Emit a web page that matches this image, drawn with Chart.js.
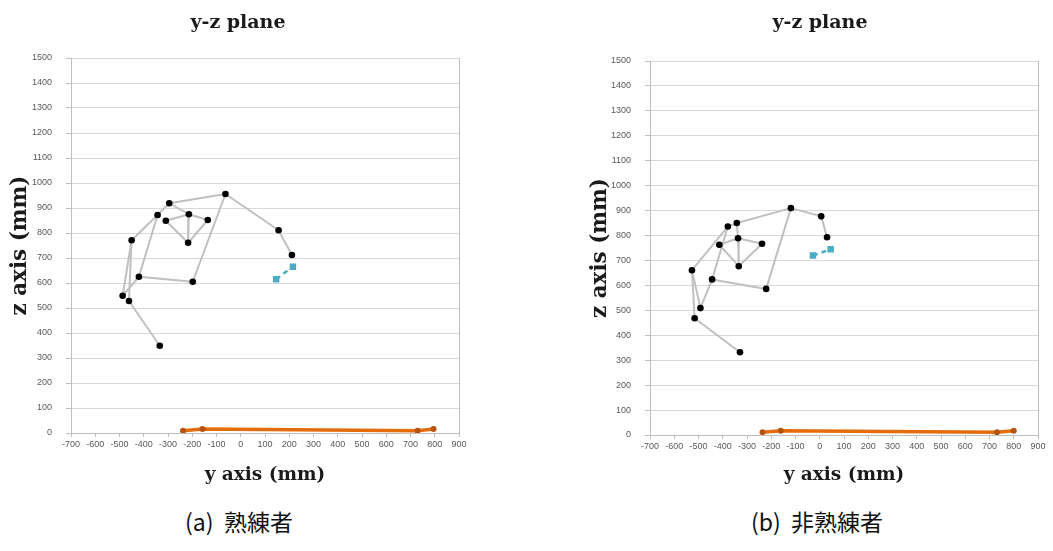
<!DOCTYPE html>
<html><head><meta charset="utf-8">
<script src="https://cdn.jsdelivr.net/npm/chart.js@4/dist/chart.umd.min.js"></script>
<style>
html,body{margin:0;padding:0;background:#fff;width:1053px;height:551px;overflow:hidden;}
.box{position:absolute;top:0;}
.cap{position:absolute;top:504px;font-family:"Noto Sans CJK JP";font-size:23px;color:#111;transform:translateX(-50%);white-space:pre;}
</style></head><body>
<div class="box" style="left:0px"><canvas id="c1" width="476" height="490"></canvas></div>
<div class="box" style="left:583px"><canvas id="c2" width="470" height="490"></canvas></div>
<div class="cap" style="left:239px">(a)  熟練者</div>
<div class="cap" style="left:817px">(b)  非熟練者</div>
<script>
// ---- data (y axis mm, z axis mm) ----
const skilledY   = [-63,-295,-343,-214,-309,-136,-217,-450,156,211,-420,-198,-487,-461,-334];
const skilledZ   = [956, 919, 872, 875, 849, 852, 761, 771,811,712, 625, 605, 549, 528, 349];
const unskilledY = [-119,-342,-379,-337,-414,-238,-334,-527,6,30,-444,-221,-492,-516,-329];
const unskilledZ = [910, 850, 836, 789, 763, 767, 677, 661,877,793, 624, 586, 509, 468, 332];
const boneFrom = [0,0,8,0,11,10,2,2,7,7,12,13,1,3,3,3,4,5];
const boneTo   = [1,8,9,11,10,2,1,7,12,13,10,14,3,4,5,6,6,6];
const skilledCyanY = [146,215];
const skilledCyanZ = [615,665];
const unskilledCyanY = [-28,45];
const unskilledCyanZ = [720,745];
const skilledFloorY = [-238,-158,729,795];
const skilledFloorZ = [9,16,9,16];
const unskilledFloorY = [-236,-161,731,800];
const unskilledFloorZ = [11,17,11,17];
const yAxisMin = -700, yAxisMax = 900, zAxisMin = 0, zAxisMax = 1500, tickStep = 100;
const chartTitle = 'y-z plane';
const xTitle = 'y axis (mm)';
const zTitle = 'z axis (mm)';

function pts(xs, zs){ return xs.map((v,i)=>({x:v,y:zs[i]})); }

function makeChart(id, Y, Z, cy, cz, fy, fz, g){
  const datasets = [];
  datasets.push({data:pts(Y,Z), showLine:false, pointRadius:3.3, pointBackgroundColor:'#000', pointBorderColor:'#000', pointBorderWidth:0});
  datasets.push({data:pts(cy,cz), showLine:true, borderColor:'#4bacc6', borderWidth:2.5, borderDash:[5,4], pointStyle:'rect', pointRadius:2.8, pointBackgroundColor:'#4bacc6', pointBorderColor:'#4bacc6'});
  datasets.push({data:pts(fy,fz), showLine:true, borderColor:'#e46c0a', borderWidth:3.5, pointRadius:3, pointBackgroundColor:'#b5530f', pointBorderColor:'#b5530f', pointBorderWidth:0});
  for(let k=0;k<boneFrom.length;k++){
    const a=boneFrom[k], b=boneTo[k];
    datasets.push({data:[{x:Y[a],y:Z[a]},{x:Y[b],y:Z[b]}], showLine:true, borderColor:'#c0c0c0', borderWidth:2, pointRadius:0});
  }
  return new Chart(document.getElementById(id), {
    type:'scatter',
    data:{datasets},
    options:{
      responsive:false, animation:false, devicePixelRatio:1,
      layout:{padding:{left:g.padL,right:g.padR,top:0,bottom:0}},
      plugins:{
        legend:{display:false}, tooltip:{enabled:false},
        title:{display:true, text:chartTitle, color:'#1a1a1a',
          font:{family:'DejaVu Serif', size:19, weight:'bold', lineHeight:1.2},
          padding:{top:11.3, bottom:g.titleBottom}}
      },
      scales:{
        x:{type:'linear', min:yAxisMin, max:yAxisMax,
          afterFit:s=>{s.height=g.xh;},
          ticks:{stepSize:tickStep, autoSkip:false, maxRotation:0, color:'#595959', padding:2,
            font:{family:'Liberation Sans', size:9}, callback:v=>String(v)},
          grid:{color:c=>(c.tick && c.tick.value===yAxisMax)?'#bfbfbf':'rgba(0,0,0,0)', tickColor:'#bfbfbf', tickLength:4, lineWidth:1},
          border:{color:'#bfbfbf'},
          title:{display:true, text:xTitle, color:'#1a1a1a',
            font:{family:'DejaVu Serif', size:18.5, weight:'bold', lineHeight:1.2}, padding:{top:0,bottom:4}}
        },
        y:{type:'linear', min:zAxisMin, max:zAxisMax,
          afterFit:s=>{s.width=g.yw;},
          ticks:{stepSize:tickStep, color:'#595959', padding:14, font:{family:'Liberation Sans', size:9}, callback:v=>String(v)},
          grid:{color:'#d9d9d9', tickColor:'#bfbfbf', tickLength:5, lineWidth:1},
          border:{color:'#bfbfbf'},
          title:{display:true, text:zTitle, color:'#1a1a1a',
            font:{family:'DejaVu Serif', size:21.5, weight:'bold', lineHeight:1.2}, padding:{top:g.ztp,bottom:0}}
        }
      }
    }
  });
}

makeChart('c1', skilledY, skilledZ, skilledCyanY, skilledCyanZ, skilledFloorY, skilledFloorZ,
  {padL:17, padR:17, yw:54, xh:57, titleBottom:23.9, ztp:-9.4});
makeChart('c2', unskilledY, unskilledZ, unskilledCyanY, unskilledCyanZ, unskilledFloorY, unskilledFloorZ,
  {padL:19, padR:15, yw:48, xh:55, titleBottom:26.9, ztp:-14.4});
</script>
</body></html>
